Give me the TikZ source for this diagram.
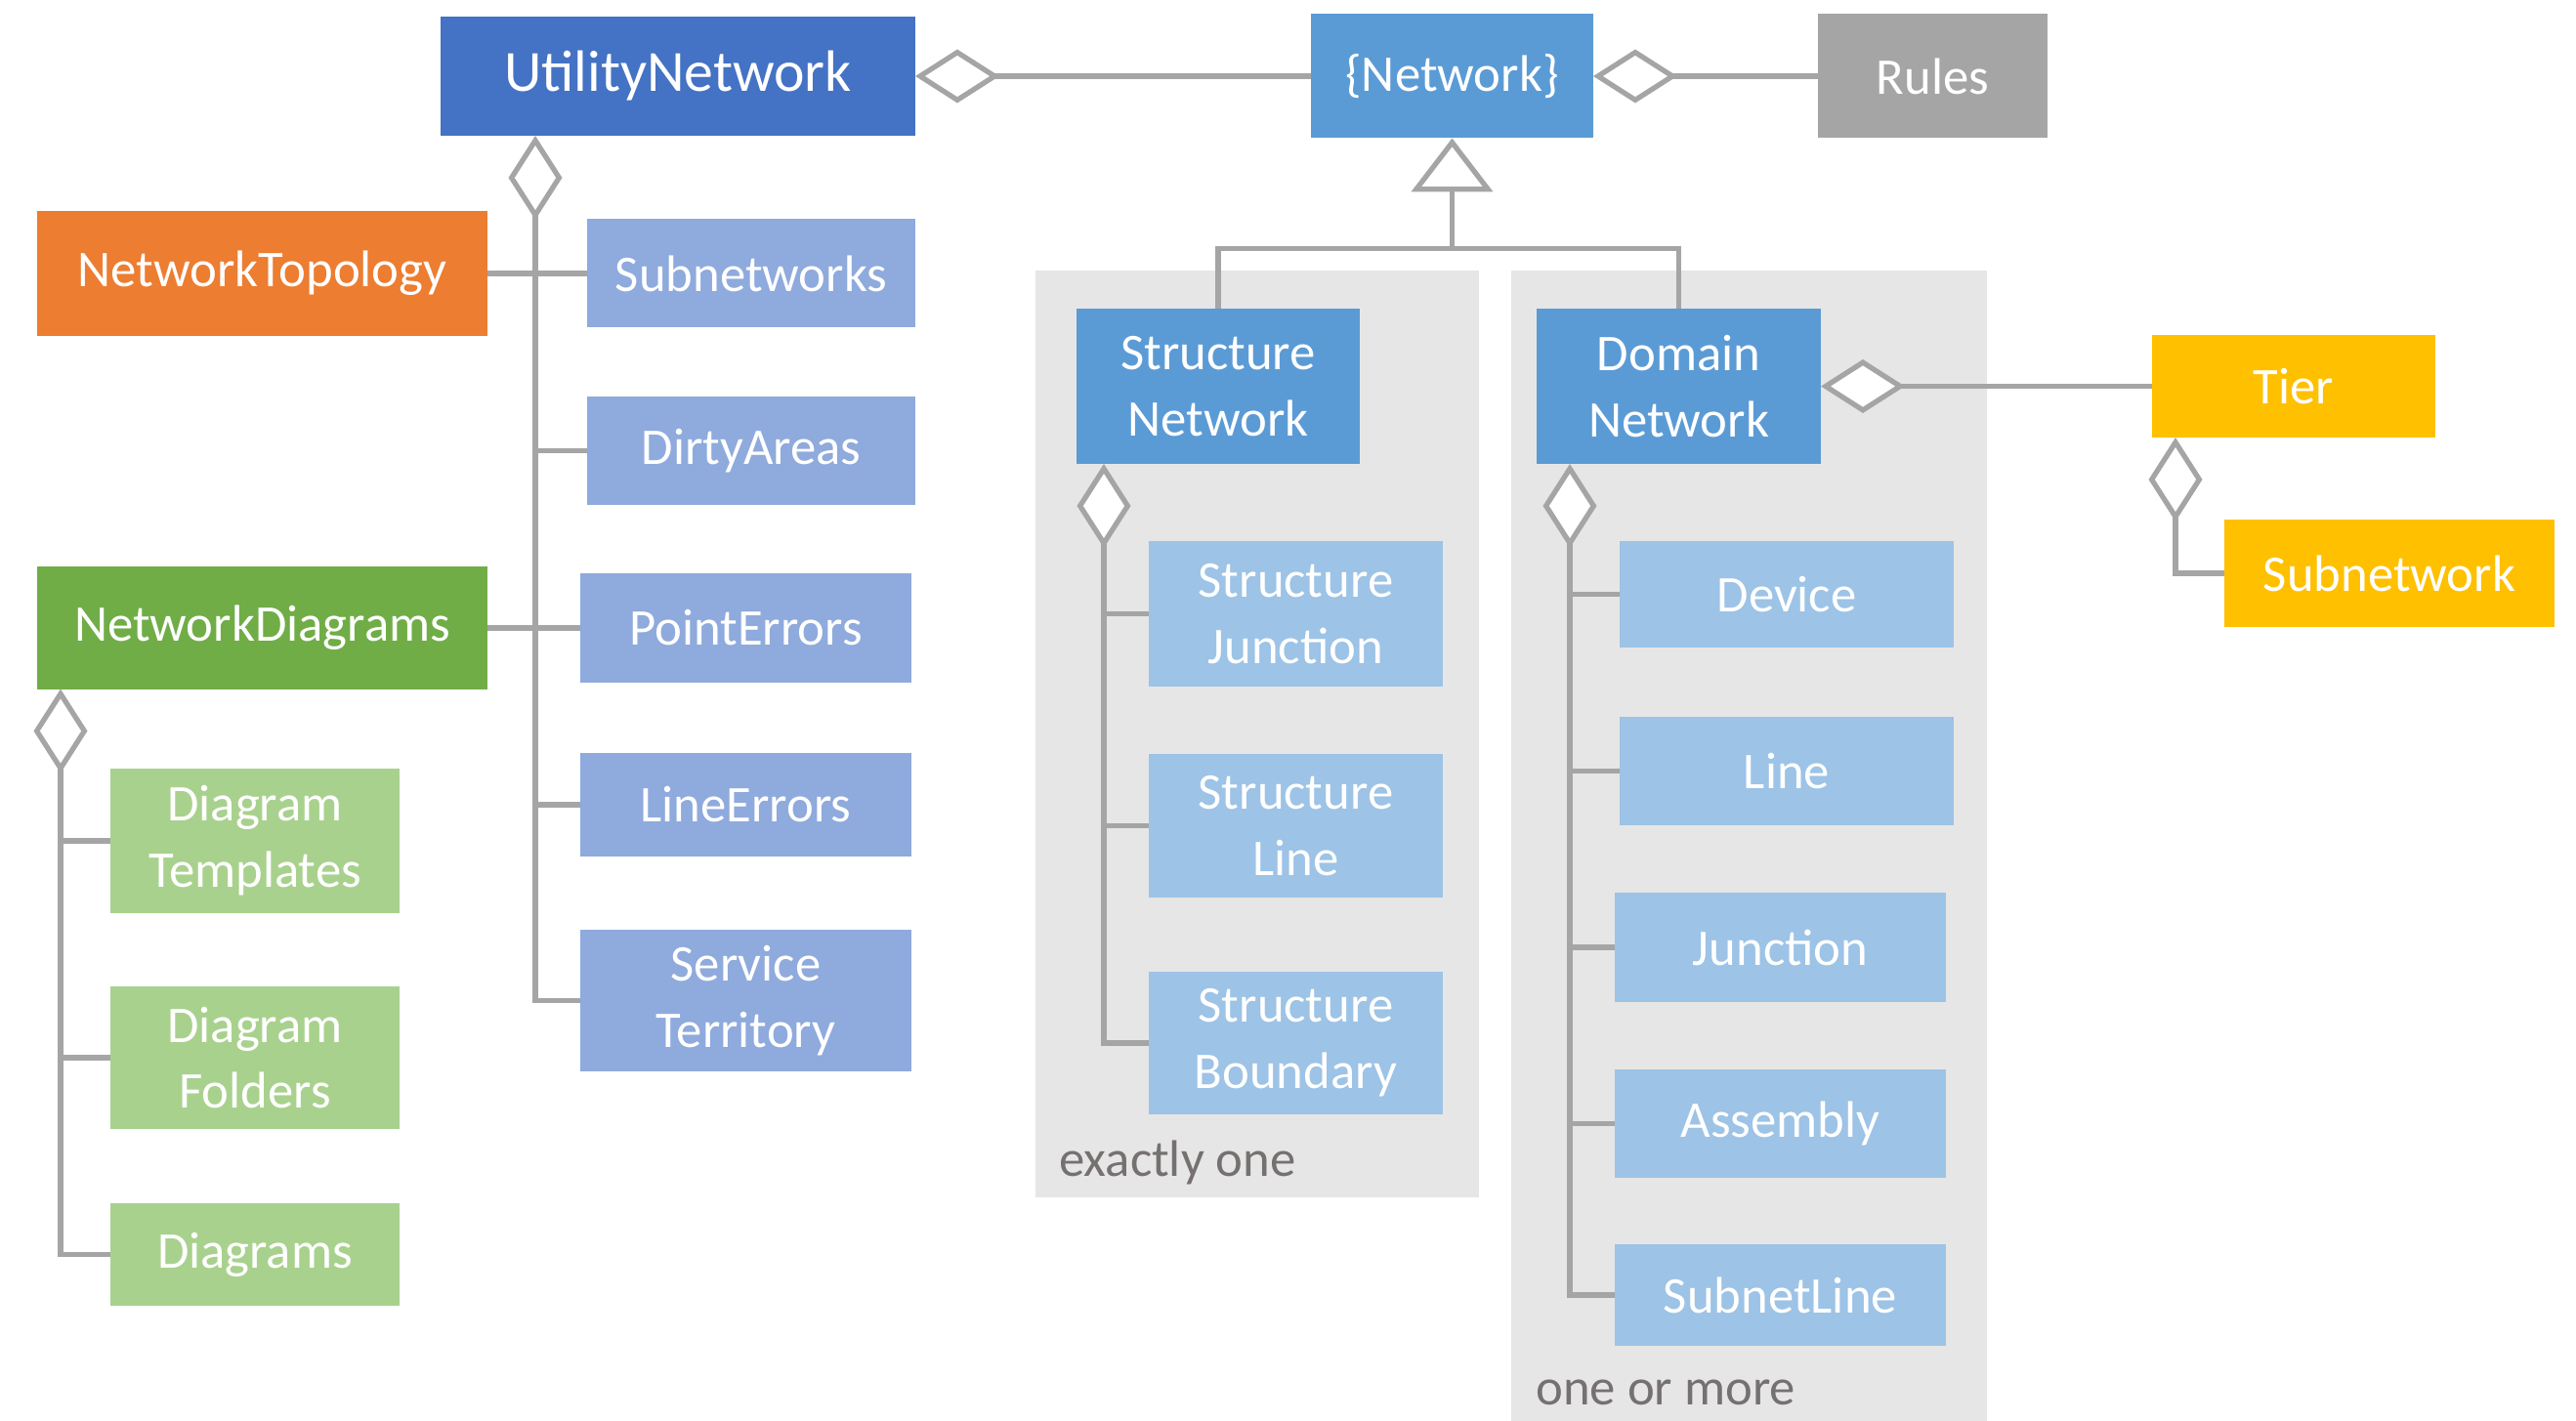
\documentclass[tikz,border=0pt]{standalone}
\usepackage{fontspec}
\setmainfont{Carlito}
\usetikzlibrary{arrows.meta,calc}

\definecolor{unblue}{HTML}{4472C4}
\definecolor{nwblue}{HTML}{5B9BD5}
\definecolor{subblue}{HTML}{8FAADC}
\definecolor{elblue}{HTML}{9DC3E6}
\definecolor{rulegray}{HTML}{A5A5A5}
\definecolor{topoorange}{HTML}{ED7D31}
\definecolor{diaggreen}{HTML}{70AD47}
\definecolor{diaglight}{HTML}{A9D18E}
\definecolor{tieryellow}{HTML}{FFC000}
\definecolor{panelgray}{HTML}{E7E6E6}
\definecolor{linegray}{HTML}{A5A5A5}
\definecolor{notegray}{HTML}{767171}

\tikzset{
  box/.style={rectangle, inner sep=0pt, outer sep=0pt, text=white, align=center,
    font=\fontsize{15}{19.3}\selectfont},
  conn/.style={draw=linegray, line width=1.5pt},
  agg/.style={{Diamond[fill=white, length=0.86cm, width=0.55cm]}-},
  gen/.style={{Triangle[fill=white, length=0.55cm, width=0.83cm]}-},
  note/.style={text=notegray, anchor=west, font=\fontsize{15}{18}\selectfont},
}

\begin{document}
\begin{tikzpicture}[y=-1cm]
			%%%%% START %%%%%
			\useasboundingbox (0,0) rectangle (26.37,14.55);
			
			\fill[panelgray] (10.60,2.77) rectangle (15.14,12.26);
			\fill[panelgray] (15.47,2.77) rectangle (20.34,14.55);
			
			\node[box, fill=unblue, minimum width=4.86cm, minimum height=1.22cm, font=\fontsize{17}{20}\selectfont] (util) at (6.94,0.78) {UtilityNetwork};
			\node[box, fill=nwblue, minimum width=2.89cm, minimum height=1.27cm] (net) at (14.865,0.78) {\{Network\}};
			\node[box, fill=rulegray, minimum width=2.35cm, minimum height=1.27cm] (rules) at (19.785,0.78) {Rules};
			
			\node[box, fill=topoorange, minimum width=4.61cm, minimum height=1.28cm] (topo) at (2.685,2.80) {NetworkTopology};
			\node[box, fill=diaggreen, minimum width=4.61cm, minimum height=1.25cm] (ndiag) at (2.685,6.43) {NetworkDiagrams};
			
			\node[box, fill=subblue, minimum width=3.36cm, minimum height=1.11cm] (subnets) at (7.69,2.80) {Subnetworks};
			\node[box, fill=subblue, minimum width=3.36cm, minimum height=1.11cm] (dirty) at (7.69,4.615) {DirtyAreas};
			\node[box, fill=subblue, minimum width=3.39cm, minimum height=1.11cm] (pointerr) at (7.635,6.43) {PointErrors};
			\node[box, fill=subblue, minimum width=3.39cm, minimum height=1.06cm] (lineerr) at (7.635,8.24) {LineErrors};
			\node[box, fill=subblue, minimum width=3.39cm, minimum height=1.45cm] (service) at (7.635,10.245) {Service\\Territory};
			
			\node[box, fill=diaglight, minimum width=2.96cm, minimum height=1.48cm] (dtempl) at (2.61,8.61) {Diagram\\Templates};
			\node[box, fill=diaglight, minimum width=2.96cm, minimum height=1.46cm] (dfold) at (2.61,10.83) {Diagram\\Folders};
			\node[box, fill=diaglight, minimum width=2.96cm, minimum height=1.05cm] (diagrams) at (2.61,12.845) {Diagrams};
			
			\node[box, fill=nwblue, minimum width=2.90cm, minimum height=1.59cm] (structnet) at (12.47,3.955) {Structure\\Network};
			\node[box, fill=nwblue, minimum width=2.91cm, minimum height=1.59cm] (domnet) at (17.185,3.955) {Domain\\Network};
			
			\node[box, fill=elblue, minimum width=3.01cm, minimum height=1.49cm] (sjunc) at (13.265,6.285) {Structure\\Junction};
			\node[box, fill=elblue, minimum width=3.01cm, minimum height=1.47cm] (sline) at (13.265,8.455) {Structure\\Line};
			\node[box, fill=elblue, minimum width=3.01cm, minimum height=1.46cm] (sbound) at (13.265,10.68) {Structure\\Boundary};
			\node[note] (one) at (10.72,11.90) {exactly one};
			
			\node[box, fill=elblue, minimum width=3.42cm, minimum height=1.09cm] (device) at (18.29,6.085) {Device};
			\node[box, fill=elblue, minimum width=3.42cm, minimum height=1.11cm] (line) at (18.29,7.895) {Line};
			\node[box, fill=elblue, minimum width=3.39cm, minimum height=1.12cm] (junction) at (18.225,9.70) {Junction};
			\node[box, fill=elblue, minimum width=3.39cm, minimum height=1.11cm] (assembly) at (18.225,11.505) {Assembly};
			\node[box, fill=elblue, minimum width=3.39cm, minimum height=1.04cm] (subline) at (18.225,13.26) {SubnetLine};
			\node[note] (more) at (15.60,14.26) {one or more};
			
			\node[box, fill=tieryellow, minimum width=2.90cm, minimum height=1.05cm] (tier) at (23.48,3.955) {Tier};
			\node[box, fill=tieryellow, minimum width=3.38cm, minimum height=1.10cm] (subnet) at (24.46,5.87) {Subnetwork};
			
			\coordinate (ut) at ($(util.south west)+(0.97,0)$);
			\coordinate (dt) at ($(ndiag.south west)+(0.24,0)$);
			\coordinate (st) at ($(structnet.south west)+(0.28,0)$);
			\coordinate (dm) at ($(domnet.south west)+(0.34,0)$);
			\coordinate (tt) at ($(tier.south west)+(0.24,0)$);
			
			\draw[conn, agg] (util.east) -- (net.west);
			\draw[conn, agg] (net.east) -- (rules.west);
			\draw[conn, gen] (net.south) -- ++(0,1.13) coordinate (split);
			\draw[conn] (structnet.north) |- (split) -| (domnet.north);
			\draw[conn, agg] (domnet.east) -- (tier.west);
			\draw[conn, agg] (tt) |- (subnet.west);
			
			\draw[conn, agg] (ut) |- (service.west);
			\draw[conn] (topo.east) -- (subnets.west);
			\draw[conn] (ut |- dirty.west) -- (dirty.west);
			\draw[conn] (ndiag.east) -- (pointerr.west);
			\draw[conn] (ut |- lineerr.west) -- (lineerr.west);
			
			\draw[conn, agg] (dt) |- (diagrams.west);
			\draw[conn] (dt |- dtempl.west) -- (dtempl.west);
			\draw[conn] (dt |- dfold.west) -- (dfold.west);
			
			\draw[conn, agg] (st) |- (sbound.west);
			\draw[conn] (st |- sjunc.west) -- (sjunc.west);
			\draw[conn] (st |- sline.west) -- (sline.west);
			
			\draw[conn, agg] (dm) |- (subline.west);
			\foreach \el in {device, line, junction, assembly}
				\draw[conn] (dm |- \el.west) -- (\el.west);
			%%%%% END %%%%%
\end{tikzpicture}
\end{document}
